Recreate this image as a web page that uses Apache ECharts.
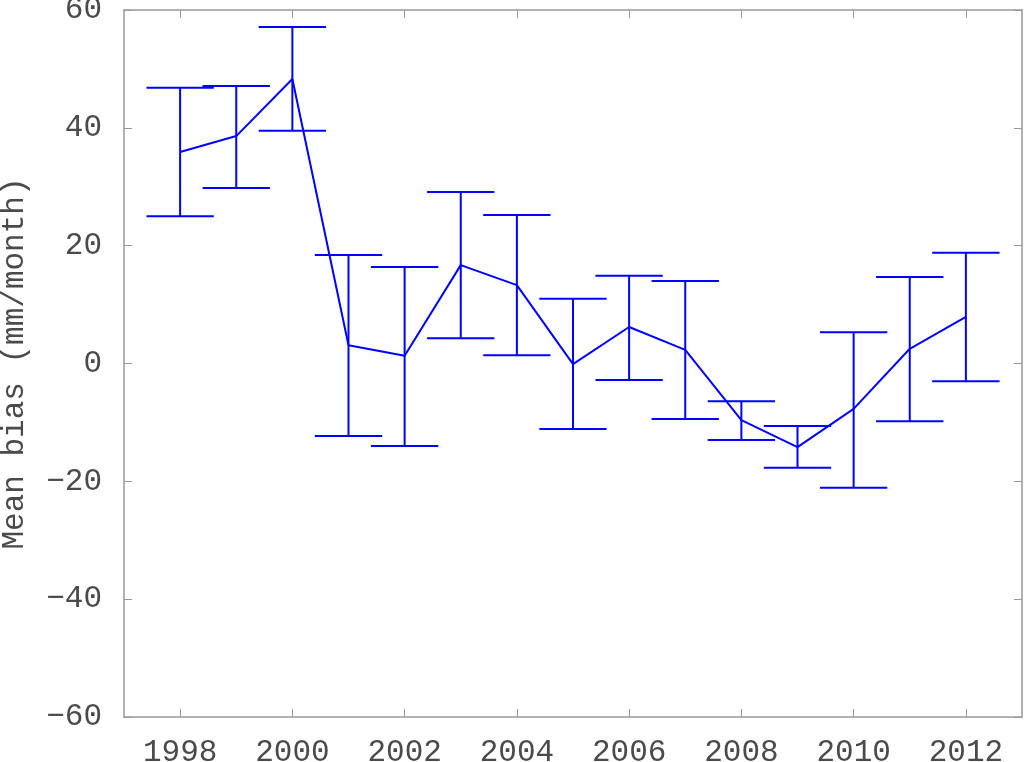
<!DOCTYPE html>
<html>
<head>
<meta charset="utf-8">
<script src="https://cdn.jsdelivr.net/npm/echarts@6/dist/echarts.min.js"></script>
<style>
  html, body { margin: 0; padding: 0; background: #fff; }
  #chart { width: 1024px; height: 762px; }
</style>
</head>
<body>
<div id="chart"></div>
<script>
// values
var years = [1998, 1999, 2000, 2001, 2002, 2003, 2004, 2005, 2006, 2007, 2008, 2009, 2010, 2011, 2012]
var meanBias = [35.9, 38.6, 48.3, 3.1, 1.3, 16.7, 13.3, -0.1, 6.2, 2.3, -9.6, -14.2, -7.7, 2.5, 7.9]
var upper = [46.8, 47.1, 57.1, 18.4, 16.4, 29.1, 25.2, 11.0, 14.9, 14.0, -6.4, -10.6, 5.3, 14.7, 18.8]
var lower = [25.0, 29.8, 39.5, -12.3, -14.0, 4.3, 1.4, -11.1, -2.8, -9.4, -13.0, -17.7, -21.1, -9.8, -3.0]
var xTicks = [1998, 2000, 2002, 2004, 2006, 2008, 2010, 2012]

var blue = '#0000ff'
var frame = '#999'
var textColor = '#4a4a4a'
var font = 'Liberation Mono'

var chart = echarts.init(document.getElementById('chart'))

var lineData = years.map(function (y, i) { return [y, meanBias[i]] })
var barData = years.map(function (y, i) { return [y, lower[i], upper[i]] })

function renderErrorBar (params, api) {
  var x = api.value(0)
  var lo = api.coord([x, api.value(1)])
  var hi = api.coord([x, api.value(2)])
  var half = api.coord([x + 0.6, 0])[0] - lo[0]
  var style = { stroke: blue, lineWidth: 2 }
  return {
    type: 'group',
    children: [
      { type: 'line', shape: { x1: lo[0], y1: hi[1], x2: lo[0], y2: lo[1] }, style: style },
      { type: 'line', shape: { x1: lo[0] - half, y1: hi[1], x2: lo[0] + half, y2: hi[1] }, style: style },
      { type: 'line', shape: { x1: lo[0] - half, y1: lo[1], x2: lo[0] + half, y2: lo[1] }, style: style }
    ]
  }
}

var xAxisBase = {
  type: 'value',
  min: 1997,
  max: 2013,
  splitLine: { show: false },
  axisLine: { show: true, onZero: false, lineStyle: { color: frame, width: 1.5 } },
  axisTick: { show: true, inside: true, length: 8, customValues: xTicks, lineStyle: { color: frame } }
}

var yAxisBase = {
  type: 'value',
  min: -60,
  max: 60,
  interval: 20,
  splitLine: { show: false },
  axisLine: { show: true, onZero: false, lineStyle: { color: frame, width: 1.5 } },
  axisTick: { show: true, inside: true, length: 8, lineStyle: { color: frame } }
}

chart.setOption({
  animation: false,
  grid: { left: 124, right: 2, top: 10, bottom: 45, outerBoundsMode: 'none', containLabel: false },
  xAxis: [
    Object.assign({}, xAxisBase, {
      position: 'bottom',
      axisLabel: {
        customValues: xTicks,
        margin: 20,
        color: textColor,
        fontFamily: font,
        fontSize: 31,
        formatter: function (v) { return String(v) }
      }
    }),
    Object.assign({}, xAxisBase, { position: 'top', axisLabel: { show: false } })
  ],
  yAxis: [
    Object.assign({}, yAxisBase, {
      position: 'left',
      name: 'Mean bias (mm/month)',
      nameLocation: 'middle',
      nameGap: 94,
      nameTextStyle: { color: textColor, fontFamily: font, fontSize: 31 },
      axisLabel: {
        margin: 22,
        color: textColor,
        fontFamily: font,
        fontSize: 31,
        formatter: function (v) { return String(v).replace('-', '\u2212') }
      }
    }),
    Object.assign({}, yAxisBase, { position: 'right', axisLabel: { show: false } })
  ],
  series: [
    {
      type: 'custom',
      renderItem: renderErrorBar,
      data: barData,
      encode: { x: 0, y: [1, 2] },
      z: 2
    },
    {
      type: 'line',
      data: lineData,
      symbol: 'none',
      lineStyle: { color: blue, width: 2 },
      z: 3
    }
  ]
})
</script>
</body>
</html>
